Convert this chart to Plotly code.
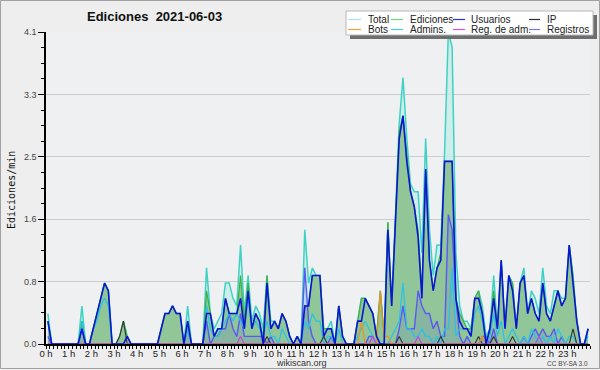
import plotly.graph_objects as go

# ---------------- data (edits per minute, 10-minute bins, 144 per day) ----------------
hour_labels = [f"{h} h" for h in range(24)]
y_tick_vals = [0, 0.82, 1.64, 2.46, 3.28, 4.1]
y_tick_text = ["0.0", "0.8", "1.6", "2.5", "3.3", "4.1"]

total = [
    .4, 0, 0, 0, 0, 0,   0, 0, 0, .5, 0, 0,   .2, .4, .6, .8, .7, 0,   0, .1, .3, .1, 0, 0,
    0, 0, 0, 0, 0, 0,    .2, .4, .4, .5, .4, .4,   0, .5, 0, 0, 0, 0,   1.0, .4, .2, .3, .4, .8,
    .8, .6, .5, 1.3, .4, .9,   .3, .5, .4, .2, .9, .3,   .3, .2, .4, .3, .1, 0,   .1, 0, 1.5, .8, 1.0, .9,
    .9, .2, .2, .3, 0, .5,   .1, 0, 0, 0, .3, .6,   .6, .5, .4, .1, .7, .1,   1.6, .5, 1.6, 2.9, 3.5, 2.7,
    2.1, 2.0, 2.0, 1.2, 2.7, 1.5,   .9, 1.3, 1.3, 2.5, 4.1, 3.9,   1.2, .5, .3, .3, .2, .6,   .7, .5, .1, .2, .9, .2,
    1.1, .2, .9, .8, .2, .8,   1.0, .4, .7, .6, .4, 1.0,   .5, .4, .7, .7, .6, .6,   1.3, .9, .3, 0, 0, .2,
]
ediciones = [
    .3, 0, 0, 0, 0, 0,   0, 0, 0, .3, 0, 0,   .2, .4, .6, .8, .7, 0,   0, .1, .3, .1, 0, 0,
    0, 0, 0, 0, 0, 0,    .2, .4, .4, .5, .4, .4,   0, .3, 0, 0, 0, 0,   .7, .4, .1, .2, .2, .6,
    .4, .4, .4, .9, .3, .8,   .2, .4, .3, .1, .9, .2,   .3, .2, .4, .3, .1, 0,   .1, 0, .5, .5, .9, .9,
    .9, .2, .2, .2, 0, .5,   .1, 0, 0, 0, .3, .6,   .6, .5, .4, .1, .7, .1,   1.6, .5, 1.6, 2.8, 3.0, 2.5,
    2.0, 1.8, 1.5, .7, 2.3, 1.1,   .7, 1.0, 1.2, 2.4, 2.4, 2.4,   .6, .4, .3, .2, .2, .6,   .7, .4, 0, .2, .7, .2,
    1.1, .2, .9, .8, .2, .8,   .9, .4, .6, .4, .3, .8,   .4, .3, .5, .7, .5, .6,   1.3, .9, .3, 0, 0, .2,
]
usuarios = [
    .3, 0, 0, 0, 0, 0,   0, 0, 0, .2, 0, 0,   .2, .4, .6, .8, .7, 0,   0, 0, 0, .1, 0, 0,
    0, 0, 0, 0, 0, 0,    .2, .4, .4, .5, .4, .4,   0, .3, 0, 0, 0, 0,   .4, .4, .1, .2, .2, .6,
    .4, .4, .4, .6, .2, .7,   .2, .4, .3, 0, .8, .2,   .3, .2, .4, .3, .1, 0,   .1, 0, .5, .5, .9, .9,
    .9, .1, .2, .2, 0, .5,   .1, 0, 0, 0, .3, .3,   .6, .5, .4, .1, 0, 0,   1.5, .5, 1.6, 2.7, 3.0, 2.4,
    2.0, 1.8, 1.4, .6, 2.3, 1.1,   .7, 1.0, 1.1, 2.4, 2.4, 2.4,   .6, .3, .2, .2, .1, .6,   .6, .4, 0, .2, .6, .2,
    1.1, .2, .9, .7, .2, .8,   .9, .4, .6, .4, .3, .8,   .4, .3, .5, .7, .5, .6,   1.3, .8, .3, 0, 0, .2,
]
ip = [
    0, 0, 0, 0, 0, 0,   0, 0, 0, 0, 0, 0,   0, 0, 0, 0, 0, 0,   0, .1, .3, 0, 0, 0,
    0, 0, 0, 0, 0, 0,   0, 0, 0, 0, 0, 0,   0, 0, 0, 0, 0, 0,   0, 0, 0, 0, 0, 0,
    0, 0, 0, 0, 0, 0,   0, 0, 0, 0, .1, 0,   0, 0, 0, 0, 0, 0,   0, 0, 0, 0, 0, 0,
    0, .1, 0, 0, 0, 0,   0, 0, 0, 0, 0, 0,   0, 0, 0, 0, 0, 0,   0, 0, 0, .1, 0, 0,
    0, 0, 0, 0, 0, 0,   0, 0, .1, 0, 0, 0,   0, 0, 0, 0, 0, 0,   .1, 0, 0, 0, .1, 0,
    0, 0, 0, .1, 0, 0,   0, 0, 0, 0, 0, 0,   0, 0, 0, 0, 0, 0,   0, .2, 0, 0, 0, 0,
]
bots = [
    0, 0, 0, 0, 0, 0,   0, 0, 0, 0, 0, 0,   0, 0, 0, 0, 0, 0,   0, 0, 0, 0, 0, 0,
    0, 0, 0, 0, 0, 0,   0, 0, 0, 0, 0, 0,   0, 0, 0, 0, 0, 0,   0, 0, 0, 0, 0, 0,
    0, 0, 0, 0, 0, 0,   0, 0, 0, 0, 0, 0,   0, 0, 0, 0, 0, 0,   0, 0, 0, 0, 0, 0,
    0, 0, 0, 0, 0, 0,   0, 0, 0, 0, 0, .3,   0, 0, 0, 0, .7, .1,   .1, 0, 0, 0, 0, 0,
    0, 0, 0, 0, 0, 0,   0, 0, 0, 0, 0, 0,   0, 0, 0, 0, 0, 0,   0, .1, 0, 0, 0, 0,
    0, 0, 0, 0, 0, 0,   0, 0, 0, 0, 0, 0,   0, 0, 0, 0, 0, 0,   0, 0, 0, 0, 0, 0,
]
admins = [
    .3, 0, 0, 0, 0, 0,   0, 0, 0, .3, 0, 0,   .2, .3, .5, .6, .5, 0,   0, 0, 0, 0, 0, 0,
    0, 0, 0, 0, 0, 0,   0, 0, 0, 0, 0, 0,   0, .2, 0, 0, 0, 0,   .5, .2, .1, .1, .2, .3,
    .4, .3, .4, .3, .2, .6,   .2, .3, .2, .1, .3, .1,   .1, 0, .2, .1, 0, 0,   0, 0, .3, .2, .4, .3,
    .3, 0, .1, .1, 0, .2,   0, 0, 0, 0, .1, .2,   .3, .2, .1, 0, 0, 0,   0, .1, .2, .3, .8, .2,
    .2, .1, .1, .2, .1, .1,   0, .1, 0, .2, .2, 1.0,   .1, .2, .2, .2, .1, .4,   .5, .3, 0, .1, .4, .1,
    .3, 0, .1, .2, .1, 0,   .1, 0, .2, .1, 0, .1,   0, .1, 0, .2, .1, 0,   .1, .1, 0, 0, 0, .1,
]
reg_adm = [
    0, 0, 0, 0, 0, 0,   0, 0, 0, 0, 0, 0,   0, 0, 0, 0, 0, 0,   0, 0, 0, 0, 0, 0,
    0, 0, 0, 0, 0, 0,   0, 0, 0, 0, 0, 0,   0, 0, 0, 0, 0, 0,   0, 0, 0, 0, 0, 0,
    0, 0, 0, .1, 0, 0,   0, 0, 0, 0, 0, 0,   0, 0, 0, 0, 0, 0,   0, 0, 0, 0, 0, 0,
    0, 0, 0, 0, 0, 0,   0, 0, 0, 0, 0, 0,   0, 0, .1, 0, 0, 0,   0, 0, 0, 0, 0, 0,
    0, 0, .1, 0, 0, 0,   0, 0, 0, 0, 0, 0,   0, 0, 0, 0, 0, 0,   0, 0, 0, 0, 0, 0,
    0, 0, 0, 0, 0, 0,   0, 0, 0, 0, .1, 0,   0, 0, 0, 0, 0, 0,   0, 0, 0, 0, 0, 0,
]
registros = [
    .1, 0, 0, 0, 0, 0,   0, 0, 0, .2, 0, 0,   0, 0, 0, 0, 0, 0,   0, 0, 0, 0, 0, 0,
    0, 0, 0, 0, 0, 0,   0, 0, 0, 0, 0, 0,   0, .2, 0, 0, 0, 0,   .3, 0, .1, .1, .2, .2,
    .4, .2, .1, .4, .1, .1,   .1, .1, .1, .1, 0, .1,   0, 0, 0, 0, 0, 0,   0, 0, 1.0, .3, .1, 0,
    0, 0, 0, .1, 0, 0,   0, 0, 0, 0, 0, 0,   0, .1, .1, 0, 0, 0,   0, 0, 0, .2, .5, .2,
    .2, .2, .7, .5, .4, .4,   .2, .3, .1, .1, 1.7, 1.5,   .6, .1, 0, .1, 0, 0,   0, .1, .1, 0, .2, 0,
    0, 0, 0, 0, 0, 0,   .1, 0, .1, .2, .1, .2,   .1, .1, .2, 0, .1, 0,   0, 0, 0, 0, 0, 0,
]

legend_names = ["Total", "Ediciones", "Usuarios", "IP", "Bots", "Admins.", "Reg. de adm.", "Registros"]
colors = {
    "Total": "#3fd2c4", "Ediciones": "#3cb043", "Usuarios": "#0a16d2", "IP": "#333333",
    "Bots": "#f0921e", "Admins.": "#28c2e6", "Reg. de adm.": "#cc3ee0", "Registros": "#5a5af2",
}
legend_colors = {
    "Total": "#a8e6e2", "Ediciones": "#7ccf7c", "Usuarios": "#3030e0", "IP": "#303030",
    "Bots": "#f2a040", "Admins.": "#40cce4", "Reg. de adm.": "#d050e8", "Registros": "#7878f0",
}

# x position: centre of each 10-minute bin, in hours
x = [(i + 0.5) / 6 for i in range(len(total))]

fig = go.Figure()
fig.add_trace(go.Scatter(x=x, y=total, mode="lines", fill="tozeroy",
                         fillcolor="rgba(196,238,230,0.75)",
                         line=dict(color=colors["Total"], width=1.5)))
fig.add_trace(go.Scatter(x=x, y=ediciones, mode="lines", fill="tozeroy",
                         fillcolor="#90c698", line=dict(color=colors["Ediciones"], width=1.2)))
fig.add_trace(go.Scatter(x=x, y=registros, mode="lines", fill="tozeroy",
                         fillcolor="rgba(80,80,230,0.14)", line=dict(color=colors["Registros"], width=1.4)))
fig.add_trace(go.Scatter(x=x, y=admins, mode="lines", line=dict(color=colors["Admins."], width=1.2)))
fig.add_trace(go.Scatter(x=x, y=ip, mode="lines", line=dict(color=colors["IP"], width=1.1)))
fig.add_trace(go.Scatter(x=x, y=bots, mode="lines", line=dict(color=colors["Bots"], width=1.2)))
fig.add_trace(go.Scatter(x=x, y=reg_adm, mode="lines", line=dict(color=colors["Reg. de adm."], width=1.1)))
fig.add_trace(go.Scatter(x=x, y=usuarios, mode="lines", line=dict(color=colors["Usuarios"], width=1.6)))

# ---------------- layout helpers (pixel -> paper) ----------------
L, R_, T_, B_ = 46, 10, 32, 26
W, H = 600, 370
PLOT_BOTTOM = H - B_
PW = W - L - R_
PH = PLOT_BOTTOM - T_


def PX(px):
    return (px - L) / PW


def PY(py):
    return (PLOT_BOTTOM - py) / PH


shapes = []
annotations = []

# outer frame
shapes.append(dict(type="rect", xref="paper", yref="paper", x0=PX(0.5), x1=PX(599.5),
                   y0=PY(368.5), y1=PY(0.5), line=dict(color="#a0a0a0", width=1), layer="above"))

# legend box with shadow
shapes.append(dict(type="rect", xref="paper", yref="paper", x0=PX(350), x1=PX(597),
                   y0=PY(39), y1=PY(15), fillcolor="#6e6e6e", line=dict(width=0), layer="above"))
shapes.append(dict(type="rect", xref="paper", yref="paper", x0=PX(346), x1=PX(593),
                   y0=PY(35), y1=PY(11), fillcolor="white", line=dict(color="#b8b8b8", width=1),
                   layer="above"))
col_sample = [(348, 361), (391, 403), (453, 465), (529, 540)]
col_text = [366, 408, 469, 545]
row_y = [19.5, 29.5]
for i, name in enumerate(legend_names):
    r, c = divmod(i, 4)
    shapes.append(dict(type="line", xref="paper", yref="paper",
                       x0=PX(col_sample[c][0]), x1=PX(col_sample[c][1]),
                       y0=PY(row_y[r]), y1=PY(row_y[r]),
                       line=dict(color=legend_colors[name], width=1.2), layer="above"))
    annotations.append(dict(text=name, xref="paper", yref="paper", x=PX(col_text[c]), y=PY(row_y[r]),
                            xanchor="left", yanchor="middle", showarrow=False,
                            font=dict(family="Liberation Sans", size=10, color="#222222")))

# title
annotations.append(dict(text="Ediciones  2021-06-03", xref="paper", yref="paper", x=PX(154), y=PY(17),
                        xanchor="center", yanchor="middle", showarrow=False,
                        font=dict(family="Liberation Sans", size=13, color="#111111", weight="bold")))
# y title
annotations.append(dict(text="Ediciones/min", xref="paper", yref="paper", x=PX(11), y=PY(190),
                        xanchor="center", yanchor="middle", showarrow=False, textangle=-90,
                        font=dict(family="DejaVu Sans Mono", size=10, color="#111111")))
# footer texts
annotations.append(dict(text="wikiscan.org", xref="paper", yref="paper", x=PX(301), y=PY(362.5),
                        xanchor="center", yanchor="middle", showarrow=False,
                        font=dict(family="Liberation Sans", size=9, color="#333333")))
annotations.append(dict(text="CC BY-SA 3.0", xref="paper", yref="paper", x=PX(590), y=PY(363.5),
                        xanchor="right", yanchor="middle", showarrow=False,
                        font=dict(family="Liberation Sans", size=6.5, color="#444444")))

fig.update_layout(
    width=W, height=H,
    margin=dict(l=L, r=R_, t=T_, b=B_, pad=0, autoexpand=False),
    paper_bgcolor="#eeeeee",
    plot_bgcolor="#eef0f1",
    showlegend=False,
    shapes=shapes,
    annotations=annotations,
    xaxis=dict(
        range=[0, 24], tickvals=list(range(24)), ticktext=hour_labels,
        automargin=False,
        showline=True, linecolor="black", linewidth=2,
        ticks="outside", ticklen=3, tickcolor="black", tickwidth=1,
        ticklabelstandoff=-3,
        showgrid=False, zeroline=False,
        tickfont=dict(family="Liberation Sans", size=9.5, color="#222222"),
        minor=dict(tickvals=[i / 6 for i in range(145)], ticks="outside", ticklen=3,
                   tickcolor="black", tickwidth=1, showgrid=False),
    ),
    yaxis=dict(
        range=[0, 4.1], tickvals=y_tick_vals, ticktext=y_tick_text,
        automargin=False,
        showline=True, linecolor="black", linewidth=1.5,
        ticks="outside", ticklen=6, tickcolor="black", tickwidth=1,
        showgrid=True, gridcolor="#cccccc", gridwidth=1, zeroline=False,
        tickfont=dict(family="Liberation Sans", size=9, color="#444444"),
        minor=dict(tickvals=[i * 0.205 for i in range(21)], ticks="outside", ticklen=3,
                   tickcolor="black", tickwidth=1, showgrid=False),
    ),
)

fig.write_html(
    "out.html",
    config={"displayModeBar": False, "responsive": False},
    post_script="document.documentElement.style.margin='0';document.body.style.margin='0';"
                "document.body.style.padding='0';document.body.style.overflow='hidden';",
)
